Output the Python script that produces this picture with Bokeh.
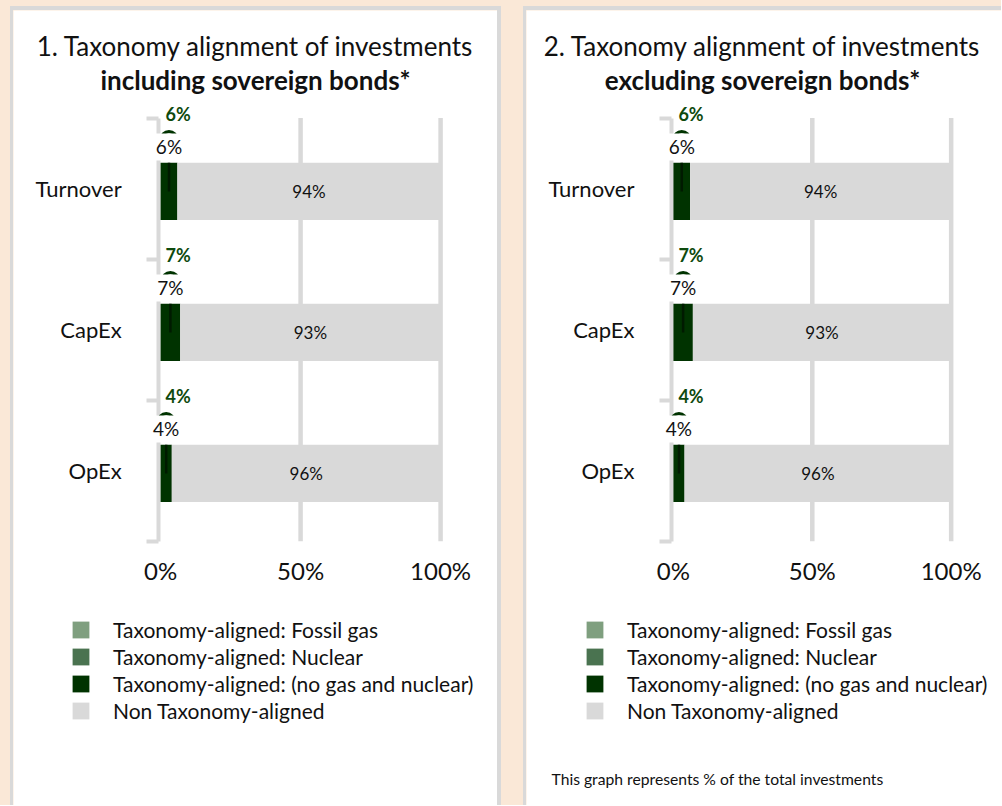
import math
from bokeh.plotting import figure
from bokeh.layouts import row
from bokeh.models import (Range1d, FixedTicker, Legend, LegendItem, Label, LinearAxis,
                          ColumnDataSource)
from bokeh.core.properties import value
from bokeh.embed import file_html
from bokeh.resources import INLINE

# ---------------- data ----------------
categories = ["Turnover", "CapEx", "OpEx"]

incl_fossil_gas = [0.0, 0.0, 0.0]
incl_nuclear = [0.0, 0.0, 0.0]
incl_no_gas_nuclear = [0.06, 0.07, 0.04]
incl_non_aligned = [0.94, 0.93, 0.96]

excl_fossil_gas = [0.0, 0.0, 0.0]
excl_nuclear = [0.0, 0.0, 0.0]
excl_no_gas_nuclear = [0.06, 0.07, 0.04]
excl_non_aligned = [0.94, 0.93, 0.96]

x_ticks = [0.0, 0.5, 1.0]
x_tick_labels = ["0%", "50%", "100%"]

series_labels = [
    "Taxonomy-aligned: Fossil gas",
    "Taxonomy-aligned: Nuclear",
    "Taxonomy-aligned: (no gas and nuclear)",
    "Non Taxonomy-aligned",
]
title1_lines = ["1. Taxonomy alignment of investments", "including sovereign bonds*"]
title2_lines = ["2. Taxonomy alignment of investments", "excluding sovereign bonds*"]
footnote = "This graph represents % of the total investments"

# ---------------- style ----------------
PEACH = "#FAE8D7"
GRID = "#D9D9D9"
COLORS = ["#7F9F7F", "#4A7350", "#003300", "#D9D9D9"]
LABEL_GREEN = "#0E4A0E"
FONT = "Lato"
TXT = "#111111"

PANEL_H = 795      # inner (canvas) height of a panel
PX_X = 276         # pixels for 100 %
PX_Y = 140.33      # pixels per category band
ZERO_Y = 528       # pixel row (from panel top) of the chart bottom


def make_panel(lines, gas, nuc, other, non, width, border_w, zero_x, center_x, note=None):
    n = len(categories)
    p = figure(width=width + border_w, height=PANEL_H + 4, output_backend="svg",
               toolbar_location=None, title=None, x_axis_location=None,
               y_axis_location=None, min_border=0,
               x_range=Range1d(-zero_x / PX_X, (width - zero_x) / PX_X),
               y_range=Range1d(-(PANEL_H - ZERO_Y) / PX_Y, ZERO_Y / PX_Y))
    p.outline_line_color = None
    p.background_fill_color = "white"
    p.border_fill_color = "white"
    p.grid.visible = False

    cat_y = [n - i - 0.5 for i in range(n)]
    bar_y = [c - 0.02 for c in cat_y]
    aligned = [g + u + o for g, u, o in zip(gas, nuc, other)]
    src = ColumnDataSource(dict(y=bar_y, gas=gas, nuc=nuc, other=other, non=non))

    # y axis (category band ticks as minor ticks)
    ya = LinearAxis(fixed_location=-0.007, level="underlay",
                    ticker=FixedTicker(ticks=cat_y, minor_ticks=list(range(n + 1))))
    ya.major_label_overrides = {c: lab for c, lab in zip(cat_y, categories)}
    ya.bounds = (0, n)
    ya.axis_line_color = GRID
    ya.axis_line_width = 4
    ya.major_tick_out = 0
    ya.major_tick_in = 0
    ya.minor_tick_out = 12
    ya.minor_tick_in = 0
    ya.minor_tick_line_color = GRID
    ya.minor_tick_line_width = 4
    ya.major_label_standoff = 25
    ya.major_label_text_font = FONT
    ya.major_label_text_font_size = "22px"
    ya.major_label_text_color = TXT
    p.add_layout(ya, "left")

    # x axis
    xa = LinearAxis(fixed_location=0, ticker=FixedTicker(ticks=x_ticks))
    xa.major_label_overrides = {t: lab for t, lab in zip(x_ticks, x_tick_labels)}
    xa.axis_line_color = None
    xa.major_tick_line_color = None
    xa.minor_tick_line_color = None
    xa.major_label_standoff = 9
    xa.major_label_text_font = FONT
    xa.major_label_text_font_size = "24px"
    xa.major_label_text_color = TXT
    p.add_layout(xa, "below")

    # grid lines (from the x ticks)
    gx = x_ticks[1:]
    p.segment(x0=gx, x1=gx, y0=[0] * len(gx), y1=[n] * len(gx),
              line_color=GRID, line_width=4.5)

    rends = p.hbar_stack(["gas", "nuc", "other", "non"], y="y", height=0.406,
                         color=COLORS, line_color=None, source=src)

    mid = [a / 2 for a in aligned]
    # thin darker line inside the aligned bar
    p.segment(x0=mid, x1=mid, y0=bar_y, y1=[b + 0.203 for b in bar_y],
              line_color="#001A00", line_width=2.5)
    # arc callout
    p.arc(x=mid, y=[b + 0.367 for b in bar_y], radius=8, radius_units="screen",
          start_angle=0, end_angle=math.pi, line_color="#003300", line_width=3.2)
    # black label with white box
    p.text(x=mid, y=bar_y, text=[f"{round(a*100)}%" for a in aligned],
           y_offset=-44.5, text_align="center", text_baseline="middle",
           text_font=value(FONT), text_font_size="19px", text_color=TXT,
           background_fill_color="white", padding=2)
    # bold green total label
    p.text(x=[0] * n, y=bar_y, text=[f"{round(a*100)}%" for a in aligned],
           x_offset=5, y_offset=-77.5, text_align="left", text_baseline="middle",
           text_font=value(FONT), text_font_size="18px", text_font_style="bold",
           text_color=LABEL_GREEN)
    # non-aligned labels
    p.text(x=[a + v / 2 for a, v in zip(aligned, non)], y=bar_y,
           text=[f"{round(v*100)}%" for v in non], text_align="center",
           text_baseline="middle", text_font=value(FONT), text_font_size="17px",
           text_color=TXT)

    # legend
    items = [LegendItem(label=lab, renderers=[r]) for lab, r in zip(series_labels, rends)]
    leg = Legend(items=items, location=(zero_x - 88, 86), orientation="vertical",
                 glyph_width=21, glyph_height=21, label_height=17, spacing=2,
                 label_standoff=22, padding=0, margin=0, border_line_color=None,
                 background_fill_alpha=0, label_text_font=FONT,
                 label_text_font_size="21px", label_text_color=TXT)
    p.add_layout(leg)

    # titles
    p.add_layout(Label(x=center_x, y=PANEL_H - 31, x_units="screen", y_units="screen",
                       text=lines[0], text_align="center", text_baseline="alphabetic",
                       text_font=FONT, text_font_size="26px", text_color=TXT))
    p.add_layout(Label(x=center_x, y=PANEL_H - 65, x_units="screen", y_units="screen",
                       text=lines[1], text_align="center", text_baseline="alphabetic",
                       text_font=FONT, text_font_size="26px", text_font_style="bold",
                       text_color=TXT))
    if note:
        p.add_layout(Label(x=25, y=PANEL_H - 764, x_units="screen", y_units="screen",
                           text=note, text_align="left", text_baseline="alphabetic",
                           text_font=FONT, text_font_size="15.7px", text_color=TXT))
    return p


p1 = make_panel(title1_lines, incl_fossil_gas, incl_nuclear, incl_no_gas_nuclear,
                incl_non_aligned, 484, 7, 145, 242)
p2 = make_panel(title2_lines, excl_fossil_gas, excl_nuclear, excl_no_gas_nuclear,
                excl_non_aligned, 475, 3, 146, 236, note=footnote)

p1.margin = (6, 0, 0, 10)
p2.margin = (6, 0, 0, 22)
p1.styles = {"border-top": f"4px solid {GRID}", "border-left": f"3px solid {GRID}",
             "border-right": f"4px solid {GRID}"}
p2.styles = {"border-top": f"4px solid {GRID}", "border-left": f"3px solid {GRID}"}

lay = row(p1, p2, styles={"background-color": PEACH})

open("out.html", "w").write(file_html(lay, INLINE))
